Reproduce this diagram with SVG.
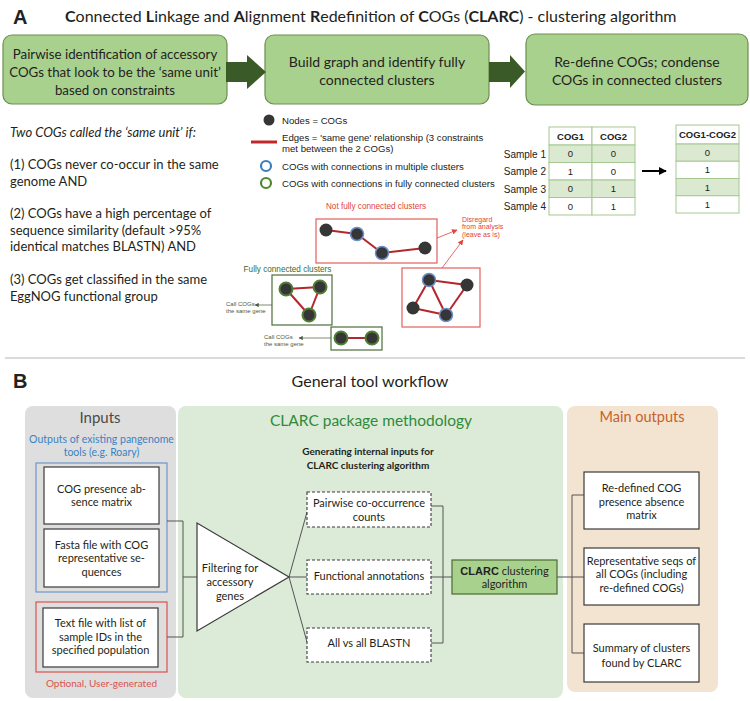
<svg xmlns="http://www.w3.org/2000/svg" width="750" height="701" viewBox="0 0 750 701">
<defs>
<style>
.m{font-family:Lato,"Open Sans",sans-serif;fill:#231f20}
.a{font-family:"Liberation Sans",Arial,sans-serif;fill:#222}
.b{font-weight:bold}
.stepbox{fill:#a9d18e;stroke:#6d8f4f;stroke-width:1.2}
.fat{fill:#3a5a27}
.cell{stroke:#a6c893;stroke-width:1}
.sh{fill:#dbe9d1}
.wh{fill:#fff}
.edge{stroke:#b3262b;stroke-width:2}
.nd{fill:#363636}
.ndb{fill:#363636;stroke:#6e8fcc;stroke-width:1.5}
.ndg{fill:#363636;stroke:#4f7f35;stroke-width:2}
.rbox{fill:none;stroke:#e0605a;stroke-width:1.2}
.gbox{fill:none;stroke:#4c6e3a;stroke-width:1.2}
.wbox{fill:#fff;stroke:#3a3a3a;stroke-width:1.2}
.dbox{fill:#fff;stroke:#3a3a3a;stroke-width:1.1;stroke-dasharray:3 2}
.conn{fill:none;stroke:#555;stroke-width:1}
.red{fill:#e0443a}
.callt{fill:#4a5a40}
.gtxt{fill:#3d6b2c}
.gray{fill:#4a4a4a}
.blue{fill:#3b82c4}
.green{fill:#2f8a3a}
.orange{fill:#c8602a}
.optred{fill:#d9534f}
</style>
<marker id="ab" viewBox="0 0 10 10" refX="9" refY="5" markerWidth="4" markerHeight="4" orient="auto"><path d="M0,0 L10,5 L0,10 z" fill="#000"/></marker>
<marker id="ar" viewBox="0 0 10 10" refX="9" refY="5" markerWidth="7" markerHeight="7" orient="auto"><path d="M0,0 L10,5 L0,10 z" fill="#e0443a"/></marker>
<marker id="ag" viewBox="0 0 10 10" refX="9" refY="5" markerWidth="6" markerHeight="6" orient="auto"><path d="M0,0 L10,5 L0,10 z" fill="#4a5a40"/></marker>
</defs>
<rect x="0" y="0" width="750" height="701" fill="#fff"/>

<!-- Section A -->
<text class="a b" x="13" y="24" font-size="20">A</text>
<text class="m" x="65" y="22" font-size="16"><tspan class="b">C</tspan>onnected <tspan class="b">L</tspan>inkage and <tspan class="b">A</tspan>lignment <tspan class="b">R</tspan>edefinition of <tspan class="b">C</tspan>OGs (<tspan class="b">CLARC</tspan>) - clustering algorithm</text>

<g id="step1"><rect class="stepbox" x="3" y="35" width="224" height="69" rx="9"/><text class="m" font-size="13.3" text-anchor="middle"><tspan x="115" y="59">Pairwise identification of accessory</tspan><tspan x="115" y="77">COGs that look to be the ‘same unit’</tspan><tspan x="115" y="95">based on constraints</tspan></text></g>
<g id="step2"><rect class="stepbox" x="265" y="35" width="224" height="69" rx="9"/><text class="m" font-size="14" text-anchor="middle"><tspan x="377" y="67">Build graph and identify fully</tspan><tspan x="377" y="85">connected clusters</tspan></text></g>
<g id="step3"><rect class="stepbox" x="526" y="34" width="222" height="71" rx="9"/><text class="m" font-size="14" text-anchor="middle"><tspan x="637" y="67">Re-define COGs; condense</tspan><tspan x="637" y="85">COGs in connected clusters</tspan></text></g>

<g id="criteria" class="m" font-size="13">
<text x="10" y="137" font-style="italic">Two COGs called the ‘same unit’ if:</text>
<text x="10" y="169">(1) COGs never co-occur in the same</text>
<text x="10" y="185.5">genome AND</text>
<text x="10" y="218">(2) COGs have a high percentage of</text>
<text x="10" y="234.5">sequence similarity (default &gt;95%</text>
<text x="10" y="251">identical matches BLASTN) AND</text>
<text x="10" y="284">(3) COGs get classified in the same</text>
<text x="10" y="300.5">EggNOG functional group</text>
</g>

<g id="legend" class="a" font-size="9.6">
<circle class="nd" cx="269" cy="120" r="5.5"/>
<text x="282" y="123.5">Nodes = COGs</text>
<line x1="251" y1="142" x2="277" y2="142" stroke="#c0282d" stroke-width="3"/>
<text x="282" y="140.5">Edges = 'same gene' relationship (3 constraints</text>
<text x="282" y="151.5">met between the 2 COGs)</text>
<circle cx="266" cy="166" r="5" fill="#fff" stroke="#3d7ebf" stroke-width="2.2"/>
<text x="282" y="169.5">COGs with connections in multiple clusters</text>
<circle cx="266" cy="183" r="5" fill="#fff" stroke="#4d8a2e" stroke-width="2.2"/>
<text x="282" y="186.5">COGs with connections in fully connected clusters</text>
</g>

<g id="table-before" class="a" font-size="9.5" text-anchor="middle">
<rect class="cell wh" x="549" y="127" width="43" height="18"/><rect class="cell wh" x="592" y="127" width="43" height="18"/>
<rect class="cell sh" x="549" y="145" width="43" height="17.5"/><rect class="cell sh" x="592" y="145" width="43" height="17.5"/>
<rect class="cell wh" x="549" y="162.5" width="43" height="17.5"/><rect class="cell wh" x="592" y="162.5" width="43" height="17.5"/>
<rect class="cell sh" x="549" y="180" width="43" height="17.5"/><rect class="cell sh" x="592" y="180" width="43" height="17.5"/>
<rect class="cell wh" x="549" y="197.5" width="43" height="17.5"/><rect class="cell wh" x="592" y="197.5" width="43" height="17.5"/>
<text class="b" x="570.5" y="139.5">COG1</text><text class="b" x="613.5" y="139.5">COG2</text>
<text x="570.5" y="157">0</text><text x="613.5" y="157">0</text>
<text x="570.5" y="174.5">1</text><text x="613.5" y="174.5">0</text>
<text x="570.5" y="192">0</text><text x="613.5" y="192">1</text>
<text x="570.5" y="209.5">0</text><text x="613.5" y="209.5">1</text>
<g text-anchor="end" font-size="10"><text x="546" y="157.5">Sample 1</text><text x="546" y="175">Sample 2</text><text x="546" y="192.5">Sample 3</text><text x="546" y="210">Sample 4</text></g>
</g>

<g id="table-after" class="a" font-size="9.5" text-anchor="middle">
<rect class="cell wh" x="676" y="125" width="63" height="19"/>
<rect class="cell sh" x="676" y="144" width="63" height="17.25"/>
<rect class="cell wh" x="676" y="161.25" width="63" height="17.25"/>
<rect class="cell sh" x="676" y="178.5" width="63" height="17.25"/>
<rect class="cell wh" x="676" y="195.75" width="63" height="17.25"/>
<text class="b" x="707.5" y="138">COG1-COG2</text>
<text x="707.5" y="156">0</text><text x="707.5" y="173.3">1</text><text x="707.5" y="190.5">1</text><text x="707.5" y="207.8">1</text>
</g>

<g id="cluster-notfull-1">
<text class="a red" x="376" y="209" font-size="8.2" text-anchor="middle">Not fully connected clusters</text>
<rect class="rbox" x="316" y="219" width="121" height="44"/>
<line class="edge" x1="326" y1="230" x2="357" y2="234"/><line class="edge" x1="357" y1="234" x2="382" y2="253"/><line class="edge" x1="382" y1="253" x2="425" y2="248"/>
<circle class="nd" cx="326" cy="230" r="6.5"/><circle class="ndb" cx="357" cy="234" r="6.5"/><circle class="ndb" cx="382" cy="253" r="6.5"/><circle class="nd" cx="425" cy="248" r="6.5"/>
</g>
<g id="cluster-notfull-2">
<rect class="rbox" x="402" y="268" width="78" height="59"/>
<line class="edge" x1="429" y1="280" x2="467" y2="285"/><line class="edge" x1="429" y1="280" x2="413" y2="308"/><line class="edge" x1="429" y1="280" x2="446" y2="315"/><line class="edge" x1="413" y1="308" x2="446" y2="315"/><line class="edge" x1="467" y1="285" x2="446" y2="315"/>
<circle class="ndb" cx="429" cy="280" r="6.5"/><circle class="nd" cx="467" cy="285" r="6.5"/><circle class="nd" cx="413" cy="308" r="6.5"/><circle class="ndb" cx="446" cy="315" r="6.5"/>
</g>
<g id="disregard-note" class="a red" font-size="7">
<text x="462" y="221.5">Disregard</text><text x="462" y="229">from analysis</text><text x="462" y="236.5">(leave as is)</text>
</g>
<g id="cluster-full-1">
<text class="a gtxt" x="287.5" y="272" font-size="8.2" text-anchor="middle">Fully connected clusters</text>
<rect class="gbox" x="272" y="275" width="60" height="50"/>
<line class="edge" x1="286" y1="289" x2="320" y2="287"/><line class="edge" x1="286" y1="289" x2="309" y2="315"/><line class="edge" x1="320" y1="287" x2="309" y2="315"/>
<circle class="ndg" cx="286" cy="289" r="6.5"/><circle class="ndg" cx="320" cy="287" r="6.5"/><circle class="ndg" cx="309" cy="315" r="6.5"/>
</g>
<g id="cluster-full-2">
<rect class="gbox" x="331" y="327" width="51" height="23"/>
<line class="edge" x1="341" y1="338" x2="372" y2="338"/>
<circle class="ndg" cx="341" cy="338" r="6.5"/><circle class="ndg" cx="372" cy="338" r="6.5"/>
</g>
<g id="call-notes" class="a callt" font-size="6">
<text x="226" y="306">Call COGs</text><text x="226" y="313">the same gene</text>
<text x="264" y="339">Call COGs</text><text x="264" y="346">the same gene</text>
</g>

<line x1="5" y1="358" x2="745" y2="358" stroke="#b5b5b5" stroke-width="1"/>

<!-- Section B -->
<text class="a b" x="13" y="388" font-size="20">B</text>
<text class="m" x="370" y="387" font-size="16" text-anchor="middle">General tool workflow</text>

<g id="panel-inputs">
<rect x="25" y="406" width="151" height="292" rx="8" fill="#dedede"/>
<text class="m gray" x="100" y="423" font-size="15" text-anchor="middle">Inputs</text>
<text class="m blue" font-size="10.5" text-anchor="middle"><tspan x="101.5" y="443">Outputs of existing pangenome</tspan><tspan x="101.5" y="456">tools (e.g. Roary)</tspan></text>
<rect x="36" y="463" width="131" height="129" fill="none" stroke="#6d96c8" stroke-width="1.2"/>
<rect x="36" y="602" width="131" height="70" fill="none" stroke="#d9534f" stroke-width="1.2"/>
<text class="m optred" x="101.5" y="686.5" font-size="10" text-anchor="middle">Optional, User-generated</text>
</g>
<g id="input-matrix"><rect class="wbox" x="44" y="467" width="115" height="57"/><text class="m" font-size="11" text-anchor="middle"><tspan x="101.5" y="493">COG presence ab-</tspan><tspan x="101.5" y="506">sence matrix</tspan></text></g>
<g id="input-fasta"><rect class="wbox" x="44" y="529" width="115" height="58"/><text class="m" font-size="11" text-anchor="middle"><tspan x="101.5" y="549">Fasta file with COG</tspan><tspan x="101.5" y="562">representative se-</tspan><tspan x="101.5" y="576">quences</tspan></text></g>
<g id="input-samples"><rect class="wbox" x="43" y="608" width="115" height="59"/><text class="m" font-size="11" text-anchor="middle"><tspan x="100.5" y="627">Text file with list of</tspan><tspan x="100.5" y="641">sample IDs in the</tspan><tspan x="100.5" y="654">specified population</tspan></text></g>

<g id="panel-clarc">
<rect x="178" y="406" width="385" height="292" rx="8" fill="#dbebd8"/>
<text class="m green" x="371" y="426" font-size="15.5" text-anchor="middle">CLARC package methodology</text>
<text class="m b" font-size="10" text-anchor="middle"><tspan x="368" y="455">Generating internal inputs for</tspan><tspan x="368" y="469">CLARC clustering algorithm</tspan></text>
</g>

<g id="panel-outputs">
<rect x="567" y="406" width="151" height="286" rx="8" fill="#f3e4d2"/>
<text class="m orange" x="642" y="422" font-size="14.5" text-anchor="middle">Main outputs</text>
</g>

<g id="connectors">
<polygon class="fat" points="226,62 247,62 247,55 266,72 247,89 247,82 226,82"/>
<polygon class="fat" points="489,62 510,62 510,55 525,71.5 510,88 510,82 489,82"/>
<line x1="642" y1="171" x2="666" y2="171" stroke="#000" stroke-width="2" marker-end="url(#ab)"/>
<line x1="437" y1="238" x2="457" y2="230" stroke="#e0443a" stroke-width="0.8" marker-end="url(#ar)"/>
<line x1="442" y1="268" x2="463" y2="240" stroke="#e0443a" stroke-width="0.8" marker-end="url(#ar)"/>
<line x1="272" y1="305" x2="255" y2="305" stroke="#4a5a40" stroke-width="0.7" marker-end="url(#ag)"/>
<line x1="331" y1="338" x2="299" y2="338" stroke="#4a5a40" stroke-width="0.7" marker-end="url(#ag)"/>
<polyline class="conn" points="167,521 183,521 183,637 167,637"/>
<line class="conn" x1="183" y1="577" x2="197" y2="577"/>
<line class="conn" x1="289" y1="577" x2="307" y2="512"/>
<line class="conn" x1="289" y1="577" x2="307" y2="577"/>
<line class="conn" x1="289" y1="577" x2="307" y2="642"/>
<polyline class="conn" points="431,506 443,506 443,643 431,643"/>
<line class="conn" x1="431" y1="577" x2="452" y2="577"/>
<line class="conn" x1="557" y1="577" x2="584" y2="577"/>
<polyline class="conn" points="584,495 572,495 572,653 584,653"/>
</g>

<g id="filter"><polygon points="197,523 197,631 289,577" fill="#fff" stroke="#3a3a3a" stroke-width="1.2"/><text class="m" font-size="11" text-anchor="middle"><tspan x="230" y="572">Filtering for</tspan><tspan x="230" y="586">accessory</tspan><tspan x="230" y="600">genes</tspan></text></g>
<g id="cooccur"><rect class="dbox" x="307" y="492" width="124" height="35"/><text class="m" font-size="11" text-anchor="middle"><tspan x="369" y="507">Pairwise co-occurrence</tspan><tspan x="369" y="521">counts</tspan></text></g>
<g id="functional"><rect class="dbox" x="307" y="560" width="124" height="34"/><text class="m" x="369" y="580" font-size="11" text-anchor="middle">Functional annotations</text></g>
<g id="blastn"><rect class="dbox" x="307" y="628" width="124" height="34"/><text class="m" x="369" y="647" font-size="11" text-anchor="middle">All vs all BLASTN</text></g>
<g id="clarc-algo"><rect x="452" y="560" width="105" height="34" fill="#a9d18e" stroke="#4a6b30" stroke-width="1.2"/><text class="m" font-size="11" text-anchor="middle"><tspan x="504.5" y="575"><tspan class="a b" font-size="11">CLARC</tspan> clustering</tspan><tspan x="504.5" y="588">algorithm</tspan></text></g>

<g id="out-matrix"><rect class="wbox" x="584" y="472" width="115" height="57"/><text class="m" font-size="11" text-anchor="middle"><tspan x="641.5" y="492">Re-defined COG</tspan><tspan x="641.5" y="506">presence absence</tspan><tspan x="641.5" y="519">matrix</tspan></text></g>
<g id="out-seqs"><rect class="wbox" x="584" y="548" width="115" height="57"/><text class="m" font-size="11" text-anchor="middle"><tspan x="641.5" y="565">Representative seqs of</tspan><tspan x="641.5" y="578">all COGs (including</tspan><tspan x="641.5" y="592">re-defined COGs)</tspan></text></g>
<g id="out-summary"><rect class="wbox" x="584" y="624" width="115" height="58"/><text class="m" font-size="11" text-anchor="middle"><tspan x="641.5" y="652">Summary of clusters</tspan><tspan x="641.5" y="667">found by CLARC</tspan></text></g>
</svg>
